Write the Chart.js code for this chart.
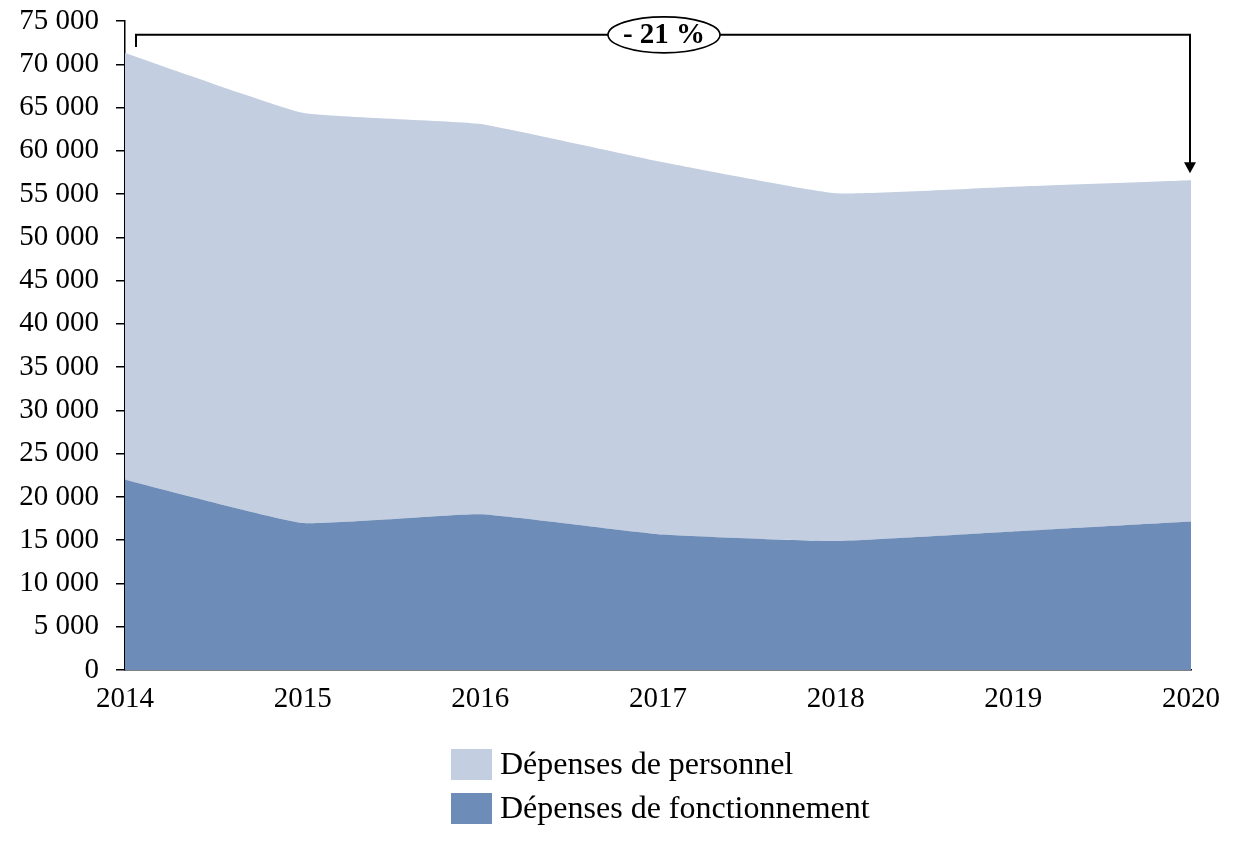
<!DOCTYPE html>
<html>
<head>
<meta charset="utf-8">
<script src="https://cdn.jsdelivr.net/npm/chart.js@4/dist/chart.umd.min.js"></script>
<style>
html,body{margin:0;padding:0;background:#fff;}
#wrap{width:1239px;height:844px;position:relative;}
</style>
</head>
<body>
<div id="wrap"><canvas id="c" width="1239" height="844"></canvas></div>
<script>
const years = ['2014','2015','2016','2017','2018','2019','2020'];
const fonctionnement = [22000, 17000, 18000, 15700, 14900, 16000, 17150];
const personnel = [49300, 47400, 45100, 43100, 40200, 39850, 39450];
const seriesLabels = ['Dépenses de fonctionnement', 'Dépenses de personnel'];
const seriesColors = ['#6D8CB8', '#C3CEE0'];
const changeLabel = '- 21 %';

const FONT = "'Liberation Serif', 'Times New Roman', serif";

const fmt = v => String(v).replace(/\B(?=(\d{3})+(?!\d))/g, ' ');

const annotationPlugin = {
  id: 'bracket',
  afterDatasetsDraw(chart) {
    const ctx = chart.ctx;
    const xs = chart.scales.x, ys = chart.scales.y;
    const n = years.length - 1;
    const tot0 = fonctionnement[0] + personnel[0];
    const totN = fonctionnement[n] + personnel[n];
    const xL = xs.getPixelForValue(0) + 11;
    const xR = xs.getPixelForValue(n) - 1;
    const yTop = ys.getPixelForValue(73400);
    const yL = ys.getPixelForValue(tot0) - 6;
    const yTip = ys.getPixelForValue(totN) - 7;
    ctx.save();
    ctx.strokeStyle = '#000';
    ctx.lineWidth = 2;
    ctx.beginPath();
    ctx.moveTo(xL, yL);
    ctx.lineTo(xL, yTop);
    ctx.lineTo(xR, yTop);
    ctx.lineTo(xR, yTip - 10);
    ctx.stroke();
    ctx.fillStyle = '#000';
    ctx.beginPath();
    ctx.moveTo(xR - 6, yTip - 11);
    ctx.lineTo(xR + 6, yTip - 11);
    ctx.lineTo(xR, yTip);
    ctx.closePath();
    ctx.fill();
    const cx = 664, cy = yTop;
    ctx.beginPath();
    ctx.ellipse(cx, cy, 56, 18, 0, 0, Math.PI * 2);
    ctx.fillStyle = '#fff';
    ctx.fill();
    ctx.lineWidth = 1.6;
    ctx.stroke();
    ctx.fillStyle = '#000';
    ctx.font = "bold 29px " + FONT;
    ctx.textAlign = 'center';
    ctx.textBaseline = 'middle';
    ctx.fillText(changeLabel, cx, cy + 1);
    ctx.restore();
  },
  afterDraw(chart) {
    const ctx = chart.ctx;
    ctx.save();
    ctx.font = "32px " + FONT;
    ctx.textAlign = 'left';
    ctx.textBaseline = 'middle';
    const items = [1, 0];
    items.forEach((di, k) => {
      const ds = chart.data.datasets[di];
      const y0 = 749 + k * 44;
      ctx.fillStyle = ds.backgroundColor;
      ctx.fillRect(451, y0, 41, 31);
      ctx.fillStyle = '#000';
      ctx.fillText(ds.label, 500, y0 + 17);
    });
    ctx.restore();
  }
};

new Chart(document.getElementById('c'), {
  type: 'line',
  data: {
    labels: years,
    datasets: [
      { label: seriesLabels[0], data: fonctionnement, backgroundColor: seriesColors[0], borderWidth: 0, fill: 'origin', pointRadius: 0, tension: 0.12 },
      { label: seriesLabels[1], data: personnel, backgroundColor: seriesColors[1], borderWidth: 0, fill: '-1', pointRadius: 0, tension: 0.12 }
    ]
  },
  options: {
    responsive: false,
    animation: false,
    layout: { padding: { left: 0, right: 48, top: 21, bottom: 124 } },
    plugins: { legend: { display: false }, tooltip: { enabled: false } },
    scales: {
      x: {
        offset: false,
        grid: { display: false, drawTicks: false },
        border: { color: '#000', width: 1.5 },
        ticks: { color: '#000', font: { family: FONT, size: 29 }, padding: 12, maxRotation: 0 },
        afterFit(s) { s.height = 50; s.paddingLeft = 0; s.paddingRight = 0; }
      },
      y: {
        stacked: true,
        min: 0, max: 75000,
        grid: { drawOnChartArea: false, drawTicks: true, tickLength: 9, color: '#000', lineWidth: 1.5 },
        border: { color: '#000', width: 1.5 },
        ticks: { stepSize: 5000, color: '#000', font: { family: FONT, size: 29 }, padding: 17, callback: v => fmt(v) },
        afterFit(s) { s.width = 125; s.paddingTop = 0; s.paddingBottom = 0; }
      }
    }
  },
  plugins: [annotationPlugin]
});
</script>
</body>
</html>
